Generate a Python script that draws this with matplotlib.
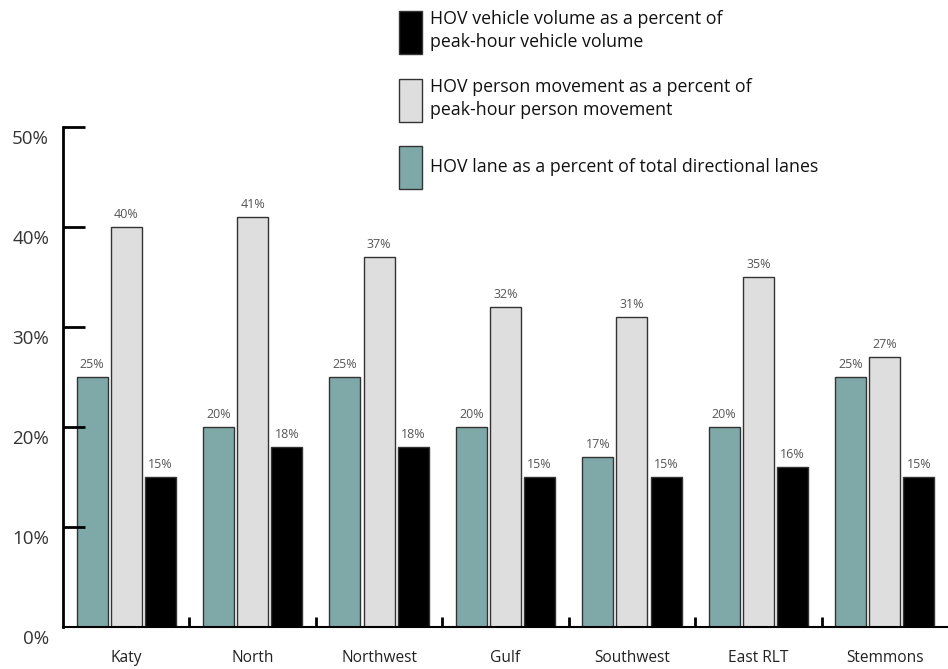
import matplotlib
matplotlib.use("Agg")
import matplotlib.pyplot as plt
import matplotlib.transforms as mtransforms
from matplotlib.patches import Patch
import numpy as np

plt.rcParams['font.family'] = ['Open Sans', 'DejaVu Sans']

corridors = ["Katy", "North", "Northwest", "Gulf", "Southwest", "East RLT", "Stemmons"]
lane_pct = [25, 20, 25, 20, 17, 20, 25]
person_pct = [40, 41, 37, 32, 31, 35, 27]
vehicle_pct = [15, 18, 18, 15, 15, 16, 15]

lane_label = "HOV lane as a percent of total directional lanes"
person_label = "HOV person movement as a percent of\npeak-hour person movement"
vehicle_label = "HOV vehicle volume as a percent of\npeak-hour vehicle volume"

teal = "#7fa8a8"
light = "#dedede"
edge = "#333333"

fig = plt.figure(figsize=(9.48, 6.69), dpi=100)
ax = fig.add_axes([63/948, 42/669, 1 - 63/948, 500/669])

x = np.arange(len(corridors))
w = 0.245
step = 0.27
series = [(lane_pct, teal), (person_pct, light), (vehicle_pct, "black")]
for i, (vals, col) in enumerate(series):
    bars = ax.bar(x + (i - 1) * step, vals, width=w, color=col, edgecolor=edge, linewidth=1)
    for b, v in zip(bars, vals):
        ax.annotate(f"{v}%", (b.get_x() + b.get_width() / 2, v), xytext=(0, 4),
                    textcoords="offset points", ha="center", va="bottom",
                    fontsize=9, color="#555555")

ax.set_xlim(-0.5, 6.5)
ax.set_ylim(0, 50)
ax.set_xticks(x)
ax.set_xticklabels(corridors, fontsize=11.2, color="#222222")
ax.set_xticks(np.arange(0.5, 6, 1), minor=True)
ax.tick_params(axis='x', which='major', length=0, pad=16.5)
ax.tick_params(axis='x', which='minor', direction='in', length=7.2, width=2, color="black")

ax.set_yticks([0, 10, 20, 30, 40, 50])
ax.set_yticklabels(["0%", "10%", "20%", "30%", "40%", "50%"], fontsize=13.5, color="#333333")
ax.tick_params(axis='y', direction='in', length=16, width=2, pad=10, color="black")
ax.yaxis.get_major_ticks()[0].tick1line.set_visible(False)
offset = mtransforms.ScaledTranslation(0, -7/72, fig.dpi_scale_trans)
for lab in ax.get_yticklabels():
    lab.set_transform(lab.get_transform() + offset)

for s in ["top", "right"]:
    ax.spines[s].set_visible(False)
ax.spines["left"].set_linewidth(2)
ax.spines["bottom"].set_linewidth(1.5)

handles = [Patch(facecolor="black", edgecolor=edge, label=vehicle_label),
           Patch(facecolor=light, edgecolor=edge, label=person_label),
           Patch(facecolor=teal, edgecolor=edge, label=lane_label)]
leg = fig.legend(handles=handles, loc="upper left", bbox_to_anchor=(383/948, 1 + 6/669),
                 frameon=False, fontsize=12.8, handlelength=1.27, handleheight=3.37,
                 labelspacing=1.33, handletextpad=0.5)
for t in leg.get_texts():
    t.set_linespacing(1.37)
    t.set_color("#111111")

fig.savefig("out.png", dpi=100)
